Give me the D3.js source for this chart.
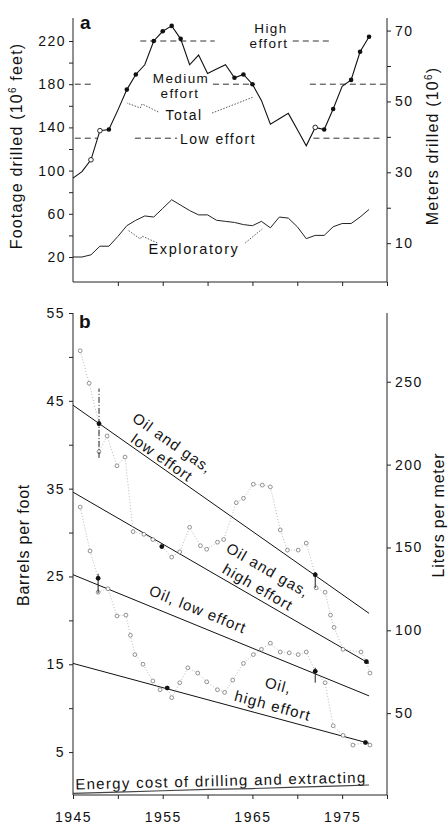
<!DOCTYPE html>
<html>
<head>
<meta charset="utf-8">
<script src="https://cdn.jsdelivr.net/npm/d3@7"></script>
<style>
body { margin: 0; background: #fff; }
svg { display: block; font-family: "Liberation Sans", Arial, Helvetica, sans-serif; }
</style>
</head>
<body>
<svg id="chart" width="448" height="825"></svg>
<script>
// ---- panel a: footage drilled (10^6 feet)
var years = [1945, 1946, 1947, 1948, 1949, 1950, 1951, 1952, 1953, 1954, 1955, 1956,
    1957, 1958, 1959, 1960, 1961, 1962, 1963, 1964, 1965, 1966, 1967, 1968, 1969,
    1970, 1971, 1972, 1973, 1974, 1975, 1976, 1977, 1978];
var totalFootage = [93, 99, 110, 137, 138, 156, 175, 189, 198, 220, 229, 234,
    222, 198, 207, 190, 194, 198, 186, 189, 180, 165, 143, 148, 153,
    138, 123, 140, 138, 157, 178, 184, 210, 224];
var exploratoryFootage = [20, 20, 22, 30, 30, 39, 49, 54, 58, 57, 65, 73,
    68, 63, 59, 59, 54, 53, 52, 50, 49, 53, 47, 57, 56,
    48, 37, 40, 40, 48, 51, 51, 57, 64];
var totalFilled = [1949, 1951, 1952, 1954, 1955, 1956, 1957, 1963, 1964, 1965, 1973, 1974, 1976, 1977, 1978];
var totalOpen = [1947, 1948, 1972];
var effortLevels = [220, 180, 130]; // high, medium, low

// ---- panel b: barrels per foot
var ogYears = [1945.8, 1946.8, 1947.9, 1947.9, 1948.8, 1949.9, 1950.8, 1951.7, 1952.9, 1953.9,
    1954.9, 1956.0, 1956.9, 1958.0, 1959.2, 1959.9, 1961.1, 1961.8, 1963.2, 1964.0,
    1965.1, 1966.1, 1967.0, 1968.1, 1968.9, 1970.1, 1971.0, 1972.0, 1972.1, 1973.1,
    1973.7, 1974.1, 1975.1, 1977.1, 1977.7, 1978.1];
var ogYield = [50.7, 47.0, 42.4, 39.2, 41.0, 37.6, 38.6, 30.1, 29.8, 29.2,
    28.4, 27.2, 27.8, 30.6, 28.5, 28.1, 28.9, 29.2, 33.4, 33.9,
    35.5, 35.4, 35.2, 30.3, 28.0, 28.0, 28.8, 25.2, 23.7, 23.2,
    20.6, 19.2, 16.7, 16.4, 15.3, 14.0];
var oilYears = [1945.8, 1946.9, 1947.8, 1947.8, 1948.9, 1949.9, 1950.9, 1951.4, 1951.9, 1952.8,
    1953.9, 1954.7, 1955.5, 1956.0, 1956.9, 1957.8, 1958.9, 1959.9, 1961.1, 1961.9,
    1962.8, 1964.0, 1965.1, 1966.0, 1967.0, 1968.1, 1969.1, 1970.1, 1971.0, 1972.0,
    1973.1, 1974.0, 1975.1, 1976.2, 1977.6, 1978.1];
var oilYield = [32.9, 27.9, 24.8, 23.2, 23.6, 20.5, 20.6, 18.3, 16.1, 15.0,
    13.1, 12.1, 12.3, 11.2, 12.9, 14.6, 14.0, 13.0, 12.1, 11.8,
    13.2, 15.1, 16.1, 16.7, 17.4, 16.4, 16.3, 16.1, 16.4, 14.2,
    12.9, 8.0, 6.9, 5.8, 6.1, 5.8];
var anchorYears = [1947.9, 1954.9, 1972.0, 1977.7, 1947.8, 1955.5, 1972.0, 1977.6];
var anchorYield = [42.4, 28.4, 25.2, 15.3, 24.8, 12.3, 14.2, 6.1];
var errYears = [1947.9, 1947.8, 1972.0, 1972.0];
var errLow = [38.5, 23.1, 23.7, 12.9];
var errHigh = [46.4, 25.3, 25.5, 14.6];

// fitted lines, 1945 -> 1978
var fitYears = [1945, 1978];
var fitStart = [44.5, 34.6, 25.2, 15.1];
var fitEnd = [20.8, 15.1, 11.4, 6.0];
var fitLabels = [["Oil and gas,", "low effort"], ["Oil and gas,", "high effort"],
    ["Oil, low effort"], ["Oil,", "high effort"]];

var energyYears = [1945, 1950, 1955, 1960, 1965, 1970, 1975, 1978];
var energyYield = [0.3, 0.45, 0.6, 0.75, 0.85, 1.0, 1.15, 1.25];

var yearTicks = [1945, 1955, 1965, 1975];

var svg = d3.select("#chart");

// scales
var x = d3.scaleLinear().domain([1945, 1980]).range([73, 387]);
var yFt = d3.scaleLinear().domain([20, 220]).range([257, 41]);
var yM = d3.scaleLinear().domain([20 * 0.3048, 220 * 0.3048]).range([257, 41]);
var yB = d3.scaleLinear().domain([0, 55]).range([796, 313]);
var yL = d3.scaleLinear().domain([0, 55 * 5.3]).range([796, 313]);

function styleAxis(g, size, spacing) {
    g.select(".domain").remove();
    g.selectAll("line").attr("stroke", "#222").attr("stroke-width", 1);
    g.selectAll("text").attr("font-size", size).attr("fill", "#111")
        .attr("font-family", "Liberation Sans, Arial, sans-serif")
        .style("letter-spacing", spacing + "px");
}

// ================= panel a =================
var ga = svg.append("g");
ga.append("line").attr("x1", 73).attr("x2", 73).attr("y1", 18).attr("y2", 282).attr("stroke", "#222");
ga.append("line").attr("x1", 387).attr("x2", 387).attr("y1", 18).attr("y2", 282).attr("stroke", "#222");
ga.append("line").attr("x1", 73).attr("x2", 387).attr("y1", 282).attr("y2", 282).attr("stroke", "#222");

ga.append("g").attr("transform", "translate(73,0)")
    .call(d3.axisLeft(yFt).tickValues(d3.range(20, 221, 20)).tickSize(4).tickPadding(3)
        .tickFormat(function(d) { return d % 40 === 20 ? d : ""; }))
    .call(styleAxis, 14, 1.5);
ga.append("g").attr("transform", "translate(387,0)")
    .call(d3.axisRight(yM).tickValues([10, 20, 30, 40, 50, 60, 70]).tickSize(4).tickPadding(4)
        .tickFormat(function(d) { return d % 20 === 10 ? d : ""; }))
    .call(styleAxis, 14, 1.5);
ga.append("g").attr("transform", "translate(0,282)")
    .call(d3.axisBottom(x).tickValues(d3.range(1950, 1981, 5)).tickSize(4).tickFormat(""))
    .call(styleAxis, 14, 1.5);

// effort levels (dashed)
var effortSegs = [
    [0, 1952.5, 1960.8], [0, 1969.5, 1973.6],
    [1, 1945.2, 1947.2], [1, 1960.6, 1965.3], [1, 1971.4, 1980],
    [2, 1945.2, 1947.7], [2, 1951.9, 1956.6], [2, 1971.8, 1979.2]
];
ga.selectAll(".effort").data(effortSegs).enter().append("line")
    .attr("x1", function(d) { return x(d[1]); })
    .attr("x2", function(d) { return x(d[2]); })
    .attr("y1", function(d) { return yFt(effortLevels[d[0]]); })
    .attr("y2", function(d) { return yFt(effortLevels[d[0]]); })
    .attr("stroke", "#333").attr("stroke-width", 1).attr("stroke-dasharray", "6,4");

var line = d3.line()
    .x(function(d) { return x(d[0]); })
    .y(function(d) { return yFt(d[1]); });

ga.append("path").datum(years.map(function(y, i) { return [y, totalFootage[i]]; }))
    .attr("d", line).attr("fill", "none").attr("stroke", "#111").attr("stroke-width", 1.1);
ga.append("path").datum(years.map(function(y, i) { return [y, exploratoryFootage[i]]; }))
    .attr("d", line).attr("fill", "none").attr("stroke", "#222").attr("stroke-width", 1);

ga.selectAll(".tf").data(totalFilled).enter().append("circle")
    .attr("cx", function(d) { return x(d); })
    .attr("cy", function(d) { return yFt(totalFootage[years.indexOf(d)]); })
    .attr("r", 2.3).attr("fill", "#111");
ga.selectAll(".to").data(totalOpen).enter().append("circle")
    .attr("cx", function(d) { return x(d); })
    .attr("cy", function(d) { return yFt(totalFootage[years.indexOf(d)]); })
    .attr("r", 2.3).attr("fill", "#fff").attr("stroke", "#111").attr("stroke-width", 0.9);

// leader lines for curve labels
var leaders = [
    [[1954.5, 154.3], [1952.7, 161.7], [1952.5, 158], [1951.0, 162.6]],
    [[1960.5, 153.3], [1965.1, 168.1]],
    [[1954.4, 33], [1952.7, 39.4], [1952.5, 36.7], [1951.1, 45]],
    [[1964.2, 33], [1965.4, 41.3], [1966.1, 45.9]]
];
ga.selectAll(".lead").data(leaders).enter().append("path")
    .attr("d", line).attr("fill", "none").attr("stroke", "#444")
    .attr("stroke-width", 0.9).attr("stroke-dasharray", "1.5,1.5");

function label(g, txt, px, py, size, spacing, anchor) {
    return g.append("text").attr("x", px).attr("y", py).attr("font-size", size)
        .attr("text-anchor", anchor || "middle").attr("fill", "#111")
        .style("letter-spacing", spacing + "px").text(txt);
}
label(ga, "High", 271, 33, 13.5, 1.4);
label(ga, "effort", 269, 48, 13.5, 1.4);
label(ga, "Medium", 181, 83, 13.5, 1.4);
label(ga, "effort", 180, 98, 13.5, 1.4);
label(ga, "Total", 184, 120, 14, 1.5);
label(ga, "Low effort", 218, 144, 14, 1.5);
label(ga, "Exploratory", 194, 254, 14.5, 1.6);
label(ga, "a", 80, 29, 19, 0, "start").attr("font-weight", "bold");

// axis titles
var t1 = ga.append("text").attr("transform", "translate(22,146) rotate(-90)")
    .attr("text-anchor", "middle").attr("font-size", 16).style("letter-spacing", "1.2px").attr("fill", "#111");
t1.append("tspan").text("Footage drilled (10");
t1.append("tspan").attr("font-size", 10).attr("dy", -6).text("6");
t1.append("tspan").attr("dy", 6).text(" feet)");
var t2 = ga.append("text").attr("transform", "translate(438,146) rotate(-90)")
    .attr("text-anchor", "middle").attr("font-size", 16).style("letter-spacing", "1.2px").attr("fill", "#111");
t2.append("tspan").text("Meters drilled (10");
t2.append("tspan").attr("font-size", 10).attr("dy", -6).text("6");
t2.append("tspan").attr("dy", 6).text(")");

// ================= panel b =================
var gb = svg.append("g");
gb.append("line").attr("x1", 73).attr("x2", 73).attr("y1", 313).attr("y2", 795).attr("stroke", "#222");
gb.append("line").attr("x1", 387).attr("x2", 387).attr("y1", 313).attr("y2", 795).attr("stroke", "#222");
gb.append("line").attr("x1", 73).attr("x2", 387).attr("y1", 795).attr("y2", 795).attr("stroke", "#222");

gb.append("g").attr("transform", "translate(73,0)")
    .call(d3.axisLeft(yB).tickValues(d3.range(5, 56, 5)).tickSize(4).tickPadding(4)
        .tickFormat(function(d) { return d % 10 === 5 ? d : ""; }))
    .call(styleAxis, 14, 1.5);
gb.append("g").attr("transform", "translate(387,0)")
    .call(d3.axisRight(yL).tickValues([50, 100, 150, 200, 250]).tickSize(4).tickPadding(4))
    .call(styleAxis, 14, 1.5);
gb.append("g").attr("transform", "translate(0,795)")
    .call(d3.axisBottom(x).tickValues(d3.range(1945, 1981, 5)).tickSize(4).tickPadding(13)
        .tickFormat(function(d) { return yearTicks.indexOf(d) >= 0 ? d : ""; }))
    .call(styleAxis, 14, 1.5);

var lineB = d3.line()
    .x(function(d) { return x(d[0]); })
    .y(function(d) { return yB(d[1]); });

// energy cost
gb.append("path").datum(energyYears.map(function(y, i) { return [y, energyYield[i]]; }))
    .attr("d", lineB).attr("fill", "none").attr("stroke", "#444").attr("stroke-width", 1.2);

// fitted lines
fitStart.forEach(function(v, i) {
    gb.append("path").datum([[fitYears[0], v], [fitYears[1], fitEnd[i]]])
        .attr("d", lineB).attr("fill", "none").attr("stroke", "#111").attr("stroke-width", 1);
});

// observed series
[[ogYears, ogYield], [oilYears, oilYield]].forEach(function(s) {
    var pts = s[0].map(function(y, i) { return [y, s[1][i]]; });
    gb.append("path").datum(pts).attr("d", lineB).attr("fill", "none")
        .attr("stroke", "#999").attr("stroke-width", 0.7).attr("stroke-dasharray", "1,2");
    gb.selectAll(null).data(pts).enter().append("circle")
        .attr("cx", function(d) { return x(d[0]); })
        .attr("cy", function(d) { return yB(d[1]); })
        .attr("r", 1.9).attr("fill", "#fff").attr("stroke", "#666").attr("stroke-width", 0.7);
});

// error bars and anchor points
gb.selectAll(".err").data(errYears).enter().append("line")
    .attr("x1", function(d) { return x(d); }).attr("x2", function(d) { return x(d); })
    .attr("y1", function(d, i) { return yB(errLow[i]); })
    .attr("y2", function(d, i) { return yB(errHigh[i]); })
    .attr("stroke", "#222").attr("stroke-width", 1)
    .attr("stroke-dasharray", function(d, i) { return i === 0 ? "6,2,1,2" : null; });
gb.selectAll(".anc").data(anchorYears).enter().append("circle")
    .attr("cx", function(d) { return x(d); })
    .attr("cy", function(d, i) { return yB(anchorYield[i]); })
    .attr("r", 2.3).attr("fill", "#111");

// labels along fitted lines: [year on line, along offset, baselines above line]
var fitLabelPos = [[1955.4, -11, [21, 3]], [1966.1, -11, [25, 5]], [1958.9, -6, [10]], [1967.6, -6, [27, 6]]];
fitLabels.forEach(function(lines, i) {
    var p = fitLabelPos[i];
    var slope = (fitEnd[i] - fitStart[i]) / (fitYears[1] - fitYears[0]);
    var vx = x(p[0]), vy = yB(fitStart[i] + slope * (p[0] - fitYears[0]));
    var ang = Math.atan2(yB(fitEnd[i]) - yB(fitStart[i]), x(fitYears[1]) - x(fitYears[0])) * 180 / Math.PI;
    var g = gb.append("g").attr("transform", "translate(" + vx + "," + vy + ") rotate(" + ang + ")");
    lines.forEach(function(t, k) {
        label(g, t, p[1], -p[2][k], 15, 1.1);
    });
});

label(gb, "b", 79, 328, 19, 0, "start").attr("font-weight", "bold");
label(gb, "Energy cost of drilling and extracting", 221, 786, 15, 1.3)
    .attr("transform", "rotate(-1.4,221,786)");

gb.append("text").attr("transform", "translate(29,545) rotate(-90)")
    .attr("text-anchor", "middle").attr("font-size", 16).style("letter-spacing", "0.8px")
    .attr("fill", "#111").text("Barrels per foot");
gb.append("text").attr("transform", "translate(444,515) rotate(-90)")
    .attr("text-anchor", "middle").attr("font-size", 16).style("letter-spacing", "0.8px")
    .attr("fill", "#111").text("Liters per meter");
</script>
</body>
</html>
